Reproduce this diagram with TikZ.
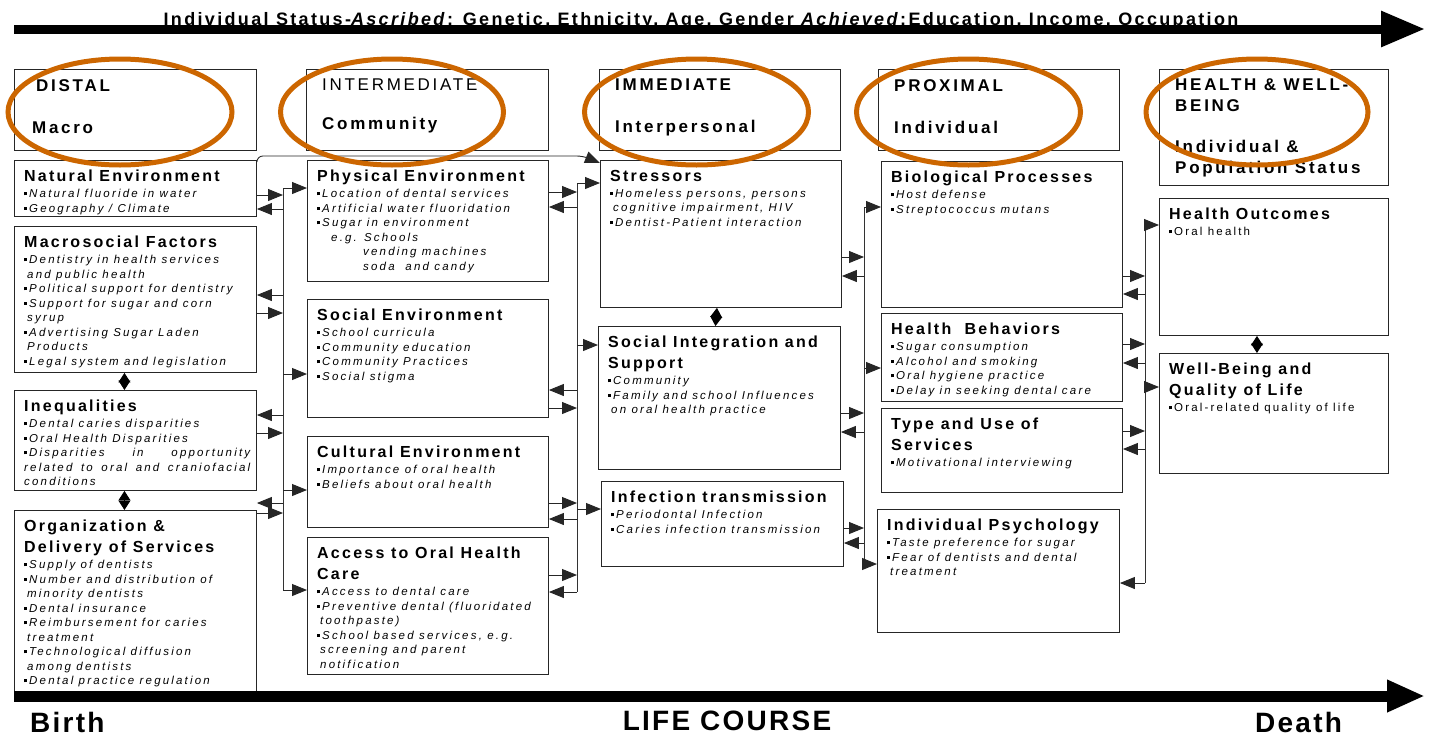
\documentclass[tikz,border=0pt]{standalone}
\usepackage{fontspec}
\setmainfont{Liberation Sans}
\newfontfamily\titlefont[LetterSpace=13]{Liberation Sans}
\newfontfamily\lvlfont[LetterSpace=16]{Liberation Sans}
\newfontfamily\headfont[LetterSpace=14]{Liberation Sans}
\newfontfamily\itemfont[LetterSpace=19]{Liberation Sans}
\newfontfamily\endfont[LetterSpace=8]{Liberation Sans}
\usetikzlibrary{arrows.meta}
\definecolor{ringorange}{RGB}{204,102,0}
\newcommand{\bul}{\rule[2.5pt]{3pt}{3pt}\kern2pt}
\newcommand{\ct}{\kern3pt}
\newcommand{\hd}[1]{{\headfont\bfseries\upshape\fontsize{16}{19}\selectfont #1}}
\tikzset{
  factor/.style 2 args={draw=black!85, line width=0.9pt, anchor=north west,
    minimum width=#1, minimum height=#2, inner sep=0pt},
  ftxt/.style={anchor=north west, align=left, inner xsep=10pt, inner ysep=10pt,
    font={\itemfont\itshape\fontsize{11.5}{14.5}\selectfont\lineskiplimit=-50pt}},
  lvltxt/.style={anchor=north west, align=left, inner xsep=16pt, inner ysep=10pt,
    font={\lvlfont\fontsize{17}{20}\selectfont\lineskiplimit=-50pt}},
  link/.style={draw=black!85, line width=0.9pt, -{Triangle[length=15pt,width=12pt]}},
  bus/.style={draw=black!80, line width=0.9pt},
  twoway/.style={draw=black, line width=0.9pt,
    {Triangle[length=9.5pt,width=12pt]}-{Triangle[length=9.5pt,width=12pt]}},
  ring/.style={draw=ringorange, line width=5pt},
  lifeline/.style={line width=#1, line cap=butt},
}
\begin{document}
\begin{tikzpicture}[x=1pt, y=-1pt]
	\useasboundingbox (0,0) rectangle (1431,737);
	
	%	levels
	\node[factor={242pt}{81pt}] (distal) at (14,69) {};
	\node[factor={242pt}{81pt}] (inter) at (306,69) {};
	\node[factor={241pt}{81pt}] (immed) at (599,69) {};
	\node[factor={241pt}{81pt}] (prox) at (878,69) {};
	\node[factor={229pt}{116pt}] (health) at (1159,69) {};
	\node[lvltxt] (distal-t) at (distal.north west) {\textbf{\kern6pt DISTAL}\\[22pt]\textbf{\kern2pt Macro}};
	\node[lvltxt] (inter-t) at (inter.north west) {INTERMEDIATE\\[19pt]\textbf{Community}};
	\node[lvltxt] (immed-t) at (immed.north west) {\textbf{IMMEDIATE}\\[22pt]\textbf{Interpersonal}};
	\node[lvltxt] (prox-t) at (prox.north west) {\textbf{PROXIMAL}\\[22pt]\textbf{Individual}};
	\node[lvltxt] (health-t) at (health.north west) {\textbf{HEALTH \& WELL-}\\[1pt]\textbf{BEING}\\[21pt]
		\textbf{Individual \&}\\[1pt]\textbf{Population Status}};
	
	%	distal
	\node[factor={242pt}{56pt}] (nat) at (14,160) {};
	\node[factor={242pt}{146pt}] (macro) at (14,226) {};
	\node[factor={242pt}{100pt}] (ineq) at (14,390) {};
	\node[factor={242pt}{182pt}] (org) at (14,510) {};
	\node[ftxt] (nat-t) at (nat.north west) {\hd{Natural Environment}\\[1.5pt]
		\bul Natural fluoride in water\\
		\bul Geography / Climate};
	\node[ftxt] (macro-t) at (macro.north west) {\hd{Macrosocial Factors}\\[1.5pt]
		\bul Dentistry in health services\\
		\ct and public health\\
		\bul Political support for dentistry\\
		\bul Support for sugar and corn\\
		\ct syrup\\
		\bul Advertising Sugar Laden\\
		\ct Products\\
		\bul Legal system and legislation};
	\node[ftxt] (ineq-t) at (ineq.north west) {\hd{Inequalities}\\[1.5pt]
		\bul Dental caries disparities\\
		\bul Oral Health Disparities\\
		\makebox[226pt][s]{\bul Disparities in opportunity}\\
		\makebox[226pt][s]{related to oral and craniofacial}\\
		conditions};
	\node[ftxt] (org-t) at (org.north west) {\hd{Organization \&}\\[6.5pt]
		\hd{Delivery of Services}\\[1.5pt]
		\bul Supply of dentists\\
		\bul Number and distribution of\\
		\ct minority dentists\\
		\bul Dental insurance\\
		\bul Reimbursement for caries\\
		\ct treatment\\
		\bul Technological diffusion\\
		\ct among dentists\\
		\bul Dental practice regulation};
	
	%	intermediate
	\node[factor={241pt}{121pt}] (phys) at (307,160) {};
	\node[factor={241pt}{118pt}] (soc) at (307,299) {};
	\node[factor={241pt}{91pt}] (cult) at (307,436) {};
	\node[factor={241pt}{137pt}] (access) at (307,537) {};
	\node[ftxt] (phys-t) at (phys.north west) {\hd{Physical Environment}\\[1.5pt]
		\bul Location of dental services\\
		\bul Artificial water fluoridation\\
		\bul Sugar in environment\\
		\kern14pt e.g. Schools\\
		\kern46pt vending machines\\
		\kern46pt soda\ \ and candy};
	\node[ftxt] (soc-t) at (soc.north west) {\hd{Social Environment}\\[1.5pt]
		\bul School curricula\\
		\bul Community education\\
		\bul Community Practices\\
		\bul Social stigma};
	\node[ftxt] (cult-t) at (cult.north west) {\hd{Cultural Environment}\\[1.5pt]
		\bul Importance of oral health\\
		\bul Beliefs about oral health};
	\node[ftxt] (access-t) at (access.north west) {\hd{Access to Oral Health}\\[6.5pt]
		\hd{Care}\\[1.5pt]
		\bul Access to dental care\\
		\bul Preventive dental (fluoridated\\
		\ct toothpaste)\\
		\bul School based services, e.g.\\
		\ct screening and parent\\
		\ct notification};
	
	%	immediate
	\node[factor={241pt}{147pt}] (stress) at (600,160) {};
	\node[factor={242pt}{143pt}] (integ) at (598,326) {};
	\node[factor={242pt}{85pt}] (infect) at (601,481) {};
	\node[ftxt] (stress-t) at (stress.north west) {\hd{Stressors}\\[1.5pt]
		\bul Homeless persons, persons\\
		\ct cognitive impairment, HIV\\
		\bul Dentist-Patient interaction};
	\node[ftxt] (integ-t) at (integ.north west) {\hd{Social Integration and}\\[6.5pt]
		\hd{Support}\\[1.5pt]
		\bul Community\\
		\bul Family and school Influences\\
		\ct on oral health practice};
	\node[ftxt] (infect-t) at (infect.north west) {\hd{Infection transmission}\\[1.5pt]
		\bul Periodontal Infection\\
		\bul Caries infection transmission};
	
	%	proximal
	\node[factor={241pt}{146pt}] (bio) at (881,161) {};
	\node[factor={241pt}{88pt}] (behav) at (881,313) {};
	\node[factor={241pt}{84pt}] (type) at (881,408) {};
	\node[factor={242pt}{123pt}] (psych) at (877,509) {};
	\node[ftxt] (bio-t) at (bio.north west) {\hd{Biological Processes}\\[1.5pt]
		\bul Host defense\\
		\bul Streptococcus mutans};
	\node[ftxt] (behav-t) at (behav.north west) {\hd{Health\ \ Behaviors}\\[1.5pt]
		\bul Sugar consumption\\
		\bul Alcohol and smoking\\
		\bul Oral hygiene practice\\
		\bul Delay in seeking dental care};
	\node[ftxt] (type-t) at (type.north west) {\hd{Type and Use of}\\[6.5pt]
		\hd{Services}\\[1.5pt]
		\bul Motivational interviewing};
	\node[ftxt] (psych-t) at (psych.north west) {\hd{Individual Psychology}\\[1.5pt]
		\bul Taste preference for sugar\\
		\bul Fear of dentists and dental\\
		\ct treatment};
	
	%	health and well-being
	\node[factor={229pt}{137pt}] (outc) at (1159,198) {};
	\node[factor={229pt}{120pt}] (well) at (1159,353) {};
	\node[ftxt] (outc-t) at (outc.north west) {\hd{Health Outcomes}\\[1.5pt]
		\upshape\bul Oral health};
	\node[ftxt] (well-t) at (well.north west) {\hd{Well-Being and}\\[6.5pt]
		\hd{Quality of Life}\\[1.5pt]
		\upshape\bul Oral-related quality of life};
	
	%	two-way links inside a column
	\draw[twoway] ([xshift=-11pt]macro.south) -- ([xshift=-11pt]ineq.north);
	\draw[twoway] ([xshift=-11pt]ineq.south) -- ([xshift=-11pt]org.north);
	\draw[twoway] ([xshift=-4pt]stress.south) -- ([xshift=-4pt]integ.north);
	\draw[twoway] ([xshift=-17pt]outc.south) -- ([xshift=-17pt]well.north);
	
	%	natural environment to stressors
	\draw[link, rounded corners=6pt] (nat.north east) |- ([shift={(-17pt,4pt)}]stress.north west)
		-- ([yshift=-3pt]stress.north west);
	
	%	buses
	\coordinate (b1) at (283,0);
	\coordinate (b2) at (577,0);
	\coordinate (b3) at (864,0);
	\coordinate (b4) at (1145,0);
	
	\draw[bus] (b1 |- 0,188) -- (b1 |- 0,590);
	\foreach \n/\y in {nat/195, macro/313, ineq/433, org/513}
		\draw[link] (\n.east |- 0,\y) -- (b1 |- 0,\y);
	\foreach \n/\y in {nat/209, macro/295, ineq/415, org/503}
		\draw[link] (b1 |- 0,\y) -- (\n.east |- 0,\y);
	\foreach \n/\y in {phys/188, soc/374, cult/490, access/590}
		\draw[link] (b1 |- 0,\y) -- (\n.west |- 0,\y);
	
	\draw[bus] (b2 |- 0,183) -- (b2 |- 0,592);
	\foreach \n/\y in {phys/192, soc/408, cult/503, access/575}
		\draw[link] (\n.east |- 0,\y) -- (b2 |- 0,\y);
	\foreach \n/\y in {phys/207, soc/390, cult/519, access/592}
		\draw[link] (b2 |- 0,\y) -- (\n.east |- 0,\y);
	\foreach \n/\y in {stress/183, integ/345, infect/509}
		\draw[link] (b2 |- 0,\y) -- (\n.west |- 0,\y);
	
	\draw[bus] (b3 |- 0,207) -- (b3 |- 0,564);
	\foreach \n/\y in {stress/257, integ/413, infect/528}
		\draw[link] (\n.east |- 0,\y) -- (b3 |- 0,\y);
	\foreach \n/\y in {stress/276, integ/432, infect/543}
		\draw[link] (b3 |- 0,\y) -- (\n.east |- 0,\y);
	\foreach \n/\y in {bio/207, behav/368, psych/564}
		\draw[link] (b3 |- 0,\y) -- (\n.west |- 0,\y);
	
	\draw[bus] (b4 |- 0,225) -- (b4 |- 0,583);
	\foreach \n/\y in {bio/276, behav/344, type/431}
		\draw[link] (\n.east |- 0,\y) -- (b4 |- 0,\y);
	\foreach \n/\y in {bio/294, behav/363, type/449, psych/583}
		\draw[link] (b4 |- 0,\y) -- (\n.east |- 0,\y);
	\foreach \n/\y in {outc/225, well/387}
		\draw[link] (b4 |- 0,\y) -- (\n.west |- 0,\y);
	
	%	individual status arrow
	\node[anchor=base, font={\titlefont\bfseries\fontsize{18}{21}\selectfont}] (status) at (701,25)
		{Individual Status-\textit{Ascribed}: Genetic, Ethnicity, Age, Gender \textit{Achieved}:Education, Income, Occupation};
	\coordinate (topstart) at (14,29);
	\coordinate (topend) at (1425,29);
	\draw[lifeline=9pt, -{Triangle[length=44pt,width=34pt]}] (topstart) -- (topend);
	
	%	life course arrow
	\coordinate (botstart) at (14,696);
	\coordinate (botend) at (1425,696);
	\draw[lifeline=11pt, -{Triangle[length=38pt,width=30pt]}] (botstart) -- (botend);
	\node[anchor=base west, font={\endfont\bfseries\fontsize{28}{32}\selectfont}, inner sep=0pt] (birth) at (30,732) {Birth};
	\node[anchor=base, font={\endfont\bfseries\fontsize{28}{32}\selectfont}, inner sep=0pt] (course) at (727,730) {LIFE COURSE};
	\node[anchor=base west, font={\endfont\bfseries\fontsize{28}{32}\selectfont}, inner sep=0pt] (death) at (1255,732) {Death};
	
	%	rings round the levels
	\foreach \cx/\rx in {120/112, 392/111.5, 696.5/112, 968.5/112, 1257/111}
		\draw[ring] (\cx,112) ellipse [x radius=\rx pt, y radius=53pt];
\end{tikzpicture}
\end{document}
